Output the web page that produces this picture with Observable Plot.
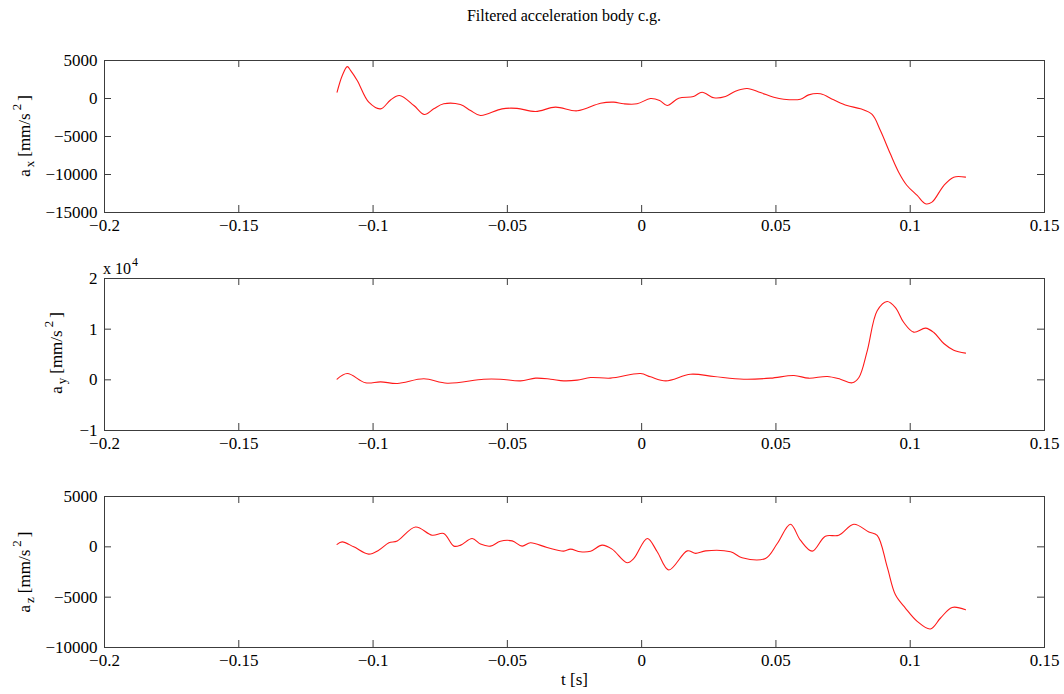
<!DOCTYPE html>
<html>
<head>
<meta charset="utf-8">
<script src="https://cdn.jsdelivr.net/npm/d3@7"></script>
<script src="https://cdn.jsdelivr.net/npm/@observablehq/plot@0.6"></script>
<style>
  html, body { margin: 0; padding: 0; background: #fff; }
  #fig { position: relative; width: 1064px; height: 694px; overflow: hidden;
         font-family: "Liberation Serif", "Times New Roman", serif; }
  #title { position: absolute; left: 0; top: 6px; width: 1000px; padding-left: 64px;
           text-align: center; font-size: 16px; line-height: 20px; color: #000; }
  .panel { position: absolute; left: 0; }
</style>
</head>
<body>
<div id="fig">
  <div id="title">Filtered acceleration body c.g.</div>
</div>
<script>
// Time axis shared by all three subplots (s)
const xDomain = [-0.2, 0.15];
const xTicks = [-0.2, -0.15, -0.1, -0.05, 0, 0.05, 0.1, 0.15];
const xLabel = "t [s]";

// Longitudinal acceleration a_x (mm/s^2)
const tAx = [-0.1134, -0.1115, -0.1096, -0.1084, -0.1059, -0.1016, -0.0972, -0.0935, -0.0902, -0.0848,
             -0.0809, -0.0774, -0.0737, -0.0675, -0.0637, -0.0600, -0.0520, -0.0464, -0.0395, -0.0321,
             -0.0240, -0.0153, -0.0104, -0.0067, -0.0017, 0.0033, 0.0067, 0.0095, 0.0138, 0.0193,
             0.0225, 0.0269, 0.0312, 0.0349, 0.0393, 0.0442, 0.0492, 0.0529, 0.0591, 0.0622,
             0.0666, 0.0715, 0.0765, 0.0815, 0.0858, 0.0889, 0.0926, 0.0957, 0.0988, 0.1026,
             0.1057, 0.1081, 0.1125, 0.1162, 0.1206];
const ax  = [830, 3000, 4200, 3700, 2370, -490, -1360, -200, 400, -920,
             -2100, -1360, -700, -800, -1580, -2240, -1360, -1300, -1710, -1140,
             -1620, -620, -480, -700, -700, 0, -260, -920, 40, 260,
             830, 90, 260, 960, 1320, 790, 170, -90, -90, 480,
             620, -170, -920, -1360, -2100, -4210, -7280, -9690, -11450, -12760,
             -13860, -13640, -11450, -10350, -10350];
const axTicks = [-15000, -10000, -5000, 0, 5000];

// Lateral acceleration a_y (mm/s^2), axis shown in units of 10^4
const tAy = [-0.1134, -0.1096, -0.1028, -0.0972, -0.0910, -0.0811, -0.0724, -0.0588, -0.0526, -0.0451,
             -0.0395, -0.0339, -0.0290, -0.0240, -0.0190, -0.0116, -0.0004, 0.0033, 0.0090, 0.0182,
             0.0269, 0.0380, 0.0480, 0.0567, 0.0622, 0.0691, 0.0740, 0.0784, 0.0809, 0.0840,
             0.0877, 0.0914, 0.0945, 0.0976, 0.1013, 0.1057, 0.1088, 0.1125, 0.1162, 0.1206];
const ay  = [140, 1240, -590, -400, -720, 200, -660, 130, 130, -200,
             330, 130, -200, -60, 460, 330, 1240, 590, -200, 1100,
             660, 130, 330, 850, 330, 660, 130, -590, 460, 5720,
             13620, 15460, 14270, 11310, 9410, 10200, 9340, 7170, 5860, 5270];
const ayTicks = [-10000, 0, 10000, 20000];

// Vertical acceleration a_z (mm/s^2)
const tAz = [-0.1134, -0.1115, -0.1072, -0.1016, -0.0979, -0.0941, -0.0910, -0.0842, -0.0780, -0.0737,
             -0.0699, -0.0674, -0.0631, -0.0600, -0.0563, -0.0526, -0.0482, -0.0445, -0.0414, -0.0352,
             -0.0290, -0.0265, -0.0228, -0.0190, -0.0147, -0.0110, -0.0054, -0.0029, 0.0021, 0.0058,
             0.0101, 0.0170, 0.0201, 0.0238, 0.0331, 0.0374, 0.0461, 0.0505, 0.0554, 0.0591,
             0.0635, 0.0684, 0.0734, 0.0790, 0.0846, 0.0877, 0.0914, 0.0945, 0.0982, 0.1026,
             0.1075, 0.1113, 0.1156, 0.1206];
const az  = [240, 490, 0, -720, -330, 400, 590, 1970, 1150, 1320,
             70, 170, 830, 270, 70, 560, 590, 70, 400, -70,
             -430, -230, -490, -430, 170, -230, -1580, -1150, 830, -490,
             -2300, -400, -650, -400, -490, -1090, -1150, 330, 2240, 660,
             -430, 1060, 1150, 2240, 1480, 1150, -1970, -4770, -6080, -7400,
             -8160, -7070, -6020, -6250];
const azTicks = [-10000, -5000, 0, 5000];

const axisColor = "#3c3c3c";
const lineColor = "#ff1a1a";
const serif = "'Liberation Serif', 'Times New Roman', serif";
const minus = (s) => String(s).replace("-", "\u2212");

function panel({t, v, yTicks, yFormat, top, height, marginTop, marginBottom, extra = []}) {
  const yDomain = [yTicks[0], yTicks[yTicks.length - 1]];
  const rows = t.map((x, i) => ({t: x, a: v[i]}));
  const svg = Plot.plot({
    width: 1064,
    height,
    marginLeft: 104,
    marginRight: 20,
    marginTop,
    marginBottom,
    style: {fontFamily: serif, fontSize: "17px", color: "#000", background: "transparent", overflow: "visible"},
    x: {domain: xDomain},
    y: {domain: yDomain},
    marks: [
      Plot.frame({stroke: axisColor, strokeWidth: 1}),
      Plot.axisX(xTicks, {tickSize: 0, tickPadding: 6, tickFormat: minus, label: null, fill: "#000"}),
      Plot.axisY(yTicks, {tickSize: 0, tickPadding: 7, tickFormat: yFormat, label: null, fill: "#000"}),
      // inward tick marks on all four sides
      Plot.ruleX(xTicks, {x: (d) => d, y1: yDomain[0], y2: yDomain[0], insetTop: -7, stroke: axisColor}),
      Plot.ruleX(xTicks, {x: (d) => d, y1: yDomain[1], y2: yDomain[1], insetBottom: -7, stroke: axisColor}),
      Plot.ruleY(yTicks, {y: (d) => d, x1: xDomain[0], x2: xDomain[0], insetRight: -7, stroke: axisColor}),
      Plot.ruleY(yTicks, {y: (d) => d, x1: xDomain[1], x2: xDomain[1], insetLeft: -7, stroke: axisColor}),
      Plot.line(rows, {x: "t", y: "a", stroke: lineColor, strokeWidth: 1.1, curve: "catmull-rom"}),
      ...extra
    ]
  });
  svg.classList.add("panel");
  svg.style.top = top + "px";
  document.getElementById("fig").appendChild(svg);
  return svg;
}

// y-axis label "a_k [mm/s^2]" with sub- and superscript
function yLabel(svg, sub, x, cy) {
  const t = d3.select(svg).append("text")
    .attr("transform", `translate(${x},${cy}) rotate(-90)`)
    .attr("text-anchor", "middle")
    .attr("font-family", serif)
    .attr("font-size", 17)
    .attr("fill", "#000");
  t.append("tspan").text("a");
  t.append("tspan").attr("font-size", 13).attr("dy", 4).attr("dx", 2).text(sub);
  t.append("tspan").attr("dy", -4).attr("dx", 4).text("[mm/s");
  t.append("tspan").attr("font-size", 13).attr("dy", -9).attr("dx", 3).text("2");
  t.append("tspan").attr("dy", 9).attr("dx", 3).text("]");
}

const p1 = panel({t: tAx, v: ax, yTicks: axTicks, yFormat: minus, top: 40, height: 200, marginTop: 20, marginBottom: 28});
yLabel(p1, "x", 30, 20 + 76);

const p2 = panel({t: tAy, v: ay, yTicks: ayTicks, yFormat: (d) => minus(d / 10000), top: 250, height: 210, marginTop: 28, marginBottom: 30});
yLabel(p2, "y", 62, 28 + 75);
// exponent note above the a_y axis
const e = d3.select(p2).append("text")
  .attr("x", 103).attr("y", 24)
  .attr("text-anchor", "start")
  .attr("font-family", serif)
  .attr("font-size", 16).attr("fill", "#000");
e.append("tspan").text("x 10");
e.append("tspan").attr("font-size", 12).attr("dy", -8).attr("dx", 1).text("4");

const p3 = panel({
  t: tAz, v: az, yTicks: azTicks, yFormat: minus, top: 470, height: 224, marginTop: 26, marginBottom: 47,
  extra: [Plot.text([xLabel], {frameAnchor: "bottom", dy: 37, fontSize: 17, fill: "#000"})]
});
yLabel(p3, "z", 30, 26 + 76);
</script>
</body>
</html>
